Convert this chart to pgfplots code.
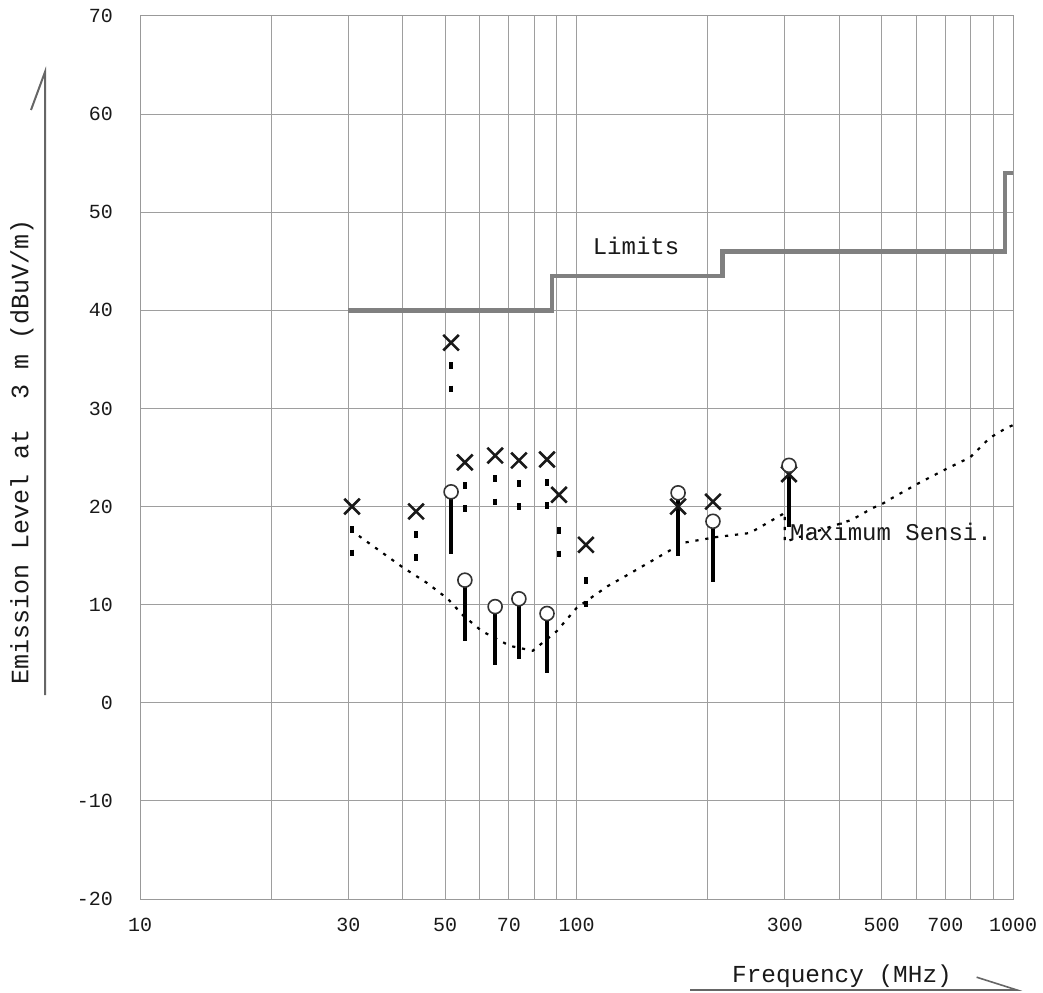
\documentclass[border=0pt]{standalone}
\usepackage{fontspec}
\setmainfont{Liberation Mono}
\usepackage{pgfplots}
\pgfplotsset{compat=1.18}
\begin{document}
\begin{tikzpicture}
\path[use as bounding box] (0,0) rectangle (521.5pt,496pt);
\begin{axis}[
  at={(70pt,46.5pt)}, anchor=south west,
  scale only axis, width=436.5pt, height=441.5pt,
  xmode=log, log basis x=10,
  xmin=10, xmax=1000, ymin=-20, ymax=70,
  xtick={10,30,50,70,100,300,500,700,1000},
  xticklabels={10,30,50,70,100,300,500,700,1000},
  minor xtick={20,40,60,80,90,200,400,600,800,900},
  ytick={-20,-10,0,10,20,30,40,50,60,70},
  yticklabels={-20,-10,0,10,20,30,40,50,60,70},
  grid=both,
  major grid style={black!38, line width=0.5pt},
  minor grid style={black!38, line width=0.5pt},
  axis line style={black!40, line width=0.5pt},
  major tick length=0pt, minor tick length=0pt,
  ticklabel style={font=\fontsize{10}{12}\selectfont, text=black!90},
  yticklabel style={xshift=-10pt},
  xticklabel style={yshift=-6pt},
  /pgf/number format/assume math mode=true,
  clip=false,
]
% Limits
\addplot[black!50, line width=2.2pt, const plot] coordinates {
  (30,40) (88,43.5) (216,46) (960,54) (1000,54)};
% Maximum sensitivity curve
\addplot[black, line width=1.1pt, dash pattern=on 1.6pt off 3.4pt] coordinates {
  (30.4,17.6) (40.0,13.8) (45.5,12.2) (50.7,10.6) (55.0,8.9) (60.7,7.3)
  (70.4,5.8) (79.4,5.3) (90.1,7.3) (100.2,9.7) (118,11.9) (130.5,13.0)
  (175.4,16.3) (209.8,16.9) (249.5,17.3) (296,19.2) (300,19.4) (300,16.4)
  (424,18.6) (446,19.1) (474,19.8) (503,20.3) (530,20.9) (603,22.3)
  (708,23.9) (797,25.0) (885,27.0) (965,28.0) (1000,28.3)};
% dashed lines below the X marks
\addplot[black, line width=2.2pt, dash pattern=on 3.3pt off 8.4pt, unbounded coords=jump] coordinates {
  (30.6,18.0) (30.6,14.95) (30.6,nan)
  (42.9,17.5) (42.9,14.45) (42.9,nan)
  (51.6,34.7) (51.6,31.65) (51.6,nan)
  (55.5,22.5) (55.5,19.45) (55.5,nan)
  (65.1,23.2) (65.1,20.15) (65.1,nan)
  (73.8,22.7) (73.8,19.65) (73.8,nan)
  (85.6,22.8) (85.6,19.75) (85.6,nan)
  (91.2,17.9) (91.2,14.85) (91.2,nan)
  (105.1,12.8) (105.1,9.75) (105.1,nan)
  (170.9,18.0) (170.9,14.95) (170.9,nan)
  (205.4,18.5) (205.4,15.45) (205.4,nan)
  (306.8,21.3) (306.8,18.25)};
% X marks
\addplot[only marks, mark=x, mark size=5.5pt, mark options={black!90, line width=1.3pt}] coordinates {
  (30.6,20.0) (42.9,19.5) (51.6,36.7) (55.5,24.5) (65.1,25.2) (73.8,24.7)
  (85.6,24.8) (91.2,21.2) (105.1,16.1) (170.9,20.0) (205.4,20.5) (306.8,23.3)};
% solid lines below the circles
\addplot[black, line width=2.2pt, unbounded coords=jump] coordinates {
  (51.6,21.5) (51.6,15.2) (51.6,nan)
  (55.5,12.5) (55.5,6.3) (55.5,nan)
  (65.1,9.8) (65.1,3.8) (65.1,nan)
  (73.8,10.6) (73.8,4.5) (73.8,nan)
  (85.6,9.1) (85.6,3.0) (85.6,nan)
  (170.9,21.4) (170.9,15.2) (170.9,nan)
  (205.4,18.5) (205.4,12.3) (205.4,nan)
  (306.8,24.2) (306.8,17.9)};
% circles
\addplot[only marks, mark=*, mark size=3.5pt, mark options={draw=black!80, fill=white, line width=0.8pt}] coordinates {
  (51.6,21.5) (55.5,12.5) (65.1,9.8) (73.8,10.6) (85.6,9.1)
  (170.9,21.4) (205.4,18.5) (306.8,24.2)};
\node[font=\fontsize{12}{14}\selectfont, text=black!90] at (axis cs:136.9,46.6) {Limits};
\node[font=\fontsize{12}{14}\selectfont, text=black!90, anchor=west, inner sep=0pt] at (axis cs:308,17.4) {Maximum Sensi.};
\end{axis}
\node[rotate=90, font=\fontsize{12.5}{14}\selectfont, text=black!90] at (11pt,270pt) {Emission Level at~~3 m (dBuV/m)};
\draw[black!60, line width=1pt] (22.5pt,148.5pt) -- (22.5pt,460pt) -- (15.5pt,441pt);
\node[font=\fontsize{12.2}{14}\selectfont, text=black!90] at (421pt,8pt) {Frequency (MHz)};
\draw[black!60, line width=0.8pt] (345pt,1pt) -- (508.5pt,1pt) -- (488.3pt,7.4pt);
\end{tikzpicture}
\end{document}
